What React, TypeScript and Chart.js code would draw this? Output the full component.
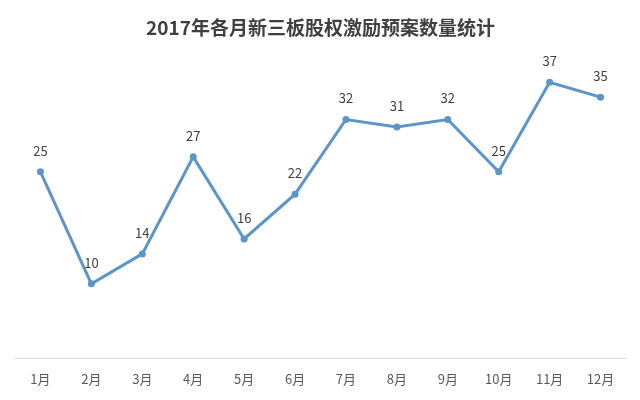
import React, { useEffect, useRef } from "react";
import { Chart, registerables } from "chart.js";

Chart.register(...registerables);

const TITLE = "2017年各月新三板股权激励预案数量统计";
const MONTHS = ["1月", "2月", "3月", "4月", "5月", "6月", "7月", "8月", "9月", "10月", "11月", "12月"];
const COUNTS = [25, 10, 14, 27, 16, 22, 32, 31, 32, 25, 37, 35];

const FONT = "'Noto Sans CJK SC', 'Microsoft YaHei', sans-serif";

const labelPlugin = {
  id: "pointLabels",
  afterDatasetsDraw(chart: any) {
    const ctx = chart.ctx;
    const meta = chart.getDatasetMeta(0);
    ctx.save();
    ctx.font = `13px ${FONT}`;
    ctx.fillStyle = "#404040";
    ctx.textAlign = "center";
    ctx.textBaseline = "middle";
    meta.data.forEach((pt: any, i: number) => {
      ctx.fillText(String(COUNTS[i]), pt.x, pt.y - 21);
    });
    ctx.restore();
  },
};

export default function App() {
  const ref = useRef<HTMLCanvasElement>(null);
  useEffect(() => {
    if (!ref.current) return;
    const chart = new Chart(ref.current, {
      type: "line",
      data: {
        labels: MONTHS,
        datasets: [
          {
            data: COUNTS,
            borderColor: "#5b95c9",
            backgroundColor: "#5b95c9",
            borderWidth: 3,
            pointRadius: 3.5,
            pointBorderWidth: 0,
            tension: 0,
          },
        ],
      },
      options: {
        responsive: false,
        animation: false,
        layout: { padding: { left: 15, right: 14, top: 0, bottom: 0 } },
        plugins: {
          legend: { display: false },
          tooltip: { enabled: false },
          title: {
            display: true,
            text: TITLE,
            color: "#404040",
            font: { family: FONT, size: 19, weight: "bold" },
            padding: { top: 16, bottom: 21 },
          },
        },
        scales: {
          x: {
            offset: true,
            grid: { display: false, drawTicks: false },
            border: { display: true, color: "#d9d9d9", width: 1 },
            ticks: {
              color: "#595959",
              font: { family: FONT, size: 13 },
              padding: 13,
              maxRotation: 0,
            },
          },
          y: {
            display: false,
            min: 0,
            max: 40,
          },
        },
      },
      plugins: [labelPlugin],
    });
    return () => chart.destroy();
  }, []);
  return (
    <div style={{ position: "absolute", left: 0, top: 0, width: 640, height: 400, background: "#fff" }}>
      <canvas ref={ref} width={640} height={400} />
    </div>
  );
}
